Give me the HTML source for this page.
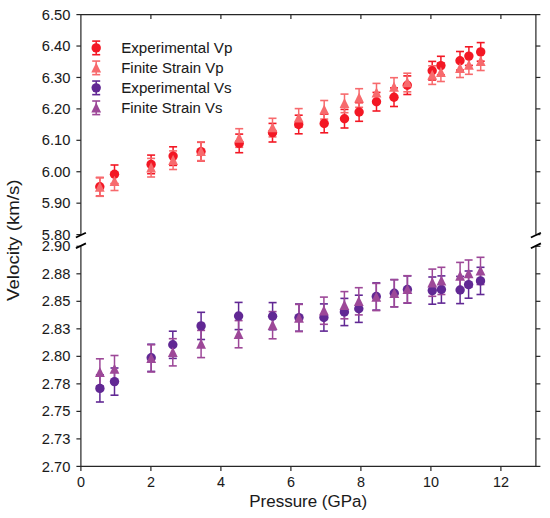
<!DOCTYPE html>
<html><head><meta charset="utf-8"><style>
html,body{margin:0;padding:0;background:#fff;}
svg{display:block;}
text{font-family:"Liberation Sans",sans-serif;fill:#1a1a1a;stroke:#1a1a1a;stroke-width:0.05px;}
</style></head><body>
<svg width="550" height="518" viewBox="0 0 550 518">
<rect width="550" height="518" fill="#fff"/>
<path d="M80.9 234.6V14.6H535.9V234.6" fill="none" stroke="#262626" stroke-width="1.2"/>
<path d="M80.9 246.3V466.4H535.9V246.3" fill="none" stroke="#262626" stroke-width="1.2"/>
<line x1="76.4" y1="14.6" x2="80.9" y2="14.6" stroke="#262626" stroke-width="1.2"/>
<line x1="535.9" y1="14.6" x2="540.4" y2="14.6" stroke="#262626" stroke-width="1.2"/>
<line x1="76.4" y1="46.03" x2="80.9" y2="46.03" stroke="#262626" stroke-width="1.2"/>
<line x1="535.9" y1="46.03" x2="540.4" y2="46.03" stroke="#262626" stroke-width="1.2"/>
<line x1="76.4" y1="77.46" x2="80.9" y2="77.46" stroke="#262626" stroke-width="1.2"/>
<line x1="535.9" y1="77.46" x2="540.4" y2="77.46" stroke="#262626" stroke-width="1.2"/>
<line x1="76.4" y1="108.89" x2="80.9" y2="108.89" stroke="#262626" stroke-width="1.2"/>
<line x1="535.9" y1="108.89" x2="540.4" y2="108.89" stroke="#262626" stroke-width="1.2"/>
<line x1="76.4" y1="140.31" x2="80.9" y2="140.31" stroke="#262626" stroke-width="1.2"/>
<line x1="535.9" y1="140.31" x2="540.4" y2="140.31" stroke="#262626" stroke-width="1.2"/>
<line x1="76.4" y1="171.74" x2="80.9" y2="171.74" stroke="#262626" stroke-width="1.2"/>
<line x1="535.9" y1="171.74" x2="540.4" y2="171.74" stroke="#262626" stroke-width="1.2"/>
<line x1="76.4" y1="203.17" x2="80.9" y2="203.17" stroke="#262626" stroke-width="1.2"/>
<line x1="535.9" y1="203.17" x2="540.4" y2="203.17" stroke="#262626" stroke-width="1.2"/>
<line x1="76.4" y1="234.6" x2="80.9" y2="234.6" stroke="#262626" stroke-width="1.2"/>
<line x1="535.9" y1="234.6" x2="540.4" y2="234.6" stroke="#262626" stroke-width="1.2"/>
<line x1="76.4" y1="246.3" x2="80.9" y2="246.3" stroke="#262626" stroke-width="1.2"/>
<line x1="535.9" y1="246.3" x2="540.4" y2="246.3" stroke="#262626" stroke-width="1.2"/>
<line x1="76.4" y1="273.81" x2="80.9" y2="273.81" stroke="#262626" stroke-width="1.2"/>
<line x1="535.9" y1="273.81" x2="540.4" y2="273.81" stroke="#262626" stroke-width="1.2"/>
<line x1="76.4" y1="301.32" x2="80.9" y2="301.32" stroke="#262626" stroke-width="1.2"/>
<line x1="535.9" y1="301.32" x2="540.4" y2="301.32" stroke="#262626" stroke-width="1.2"/>
<line x1="76.4" y1="328.84" x2="80.9" y2="328.84" stroke="#262626" stroke-width="1.2"/>
<line x1="535.9" y1="328.84" x2="540.4" y2="328.84" stroke="#262626" stroke-width="1.2"/>
<line x1="76.4" y1="356.35" x2="80.9" y2="356.35" stroke="#262626" stroke-width="1.2"/>
<line x1="535.9" y1="356.35" x2="540.4" y2="356.35" stroke="#262626" stroke-width="1.2"/>
<line x1="76.4" y1="383.86" x2="80.9" y2="383.86" stroke="#262626" stroke-width="1.2"/>
<line x1="535.9" y1="383.86" x2="540.4" y2="383.86" stroke="#262626" stroke-width="1.2"/>
<line x1="76.4" y1="411.38" x2="80.9" y2="411.38" stroke="#262626" stroke-width="1.2"/>
<line x1="535.9" y1="411.38" x2="540.4" y2="411.38" stroke="#262626" stroke-width="1.2"/>
<line x1="76.4" y1="438.89" x2="80.9" y2="438.89" stroke="#262626" stroke-width="1.2"/>
<line x1="535.9" y1="438.89" x2="540.4" y2="438.89" stroke="#262626" stroke-width="1.2"/>
<line x1="76.4" y1="466.4" x2="80.9" y2="466.4" stroke="#262626" stroke-width="1.2"/>
<line x1="535.9" y1="466.4" x2="540.4" y2="466.4" stroke="#262626" stroke-width="1.2"/>
<line x1="80.9" y1="466.4" x2="80.9" y2="470.9" stroke="#262626" stroke-width="1.2"/>
<line x1="150.9" y1="466.4" x2="150.9" y2="470.9" stroke="#262626" stroke-width="1.2"/>
<line x1="150.9" y1="14.6" x2="150.9" y2="19.1" stroke="#262626" stroke-width="1.2"/>
<line x1="220.9" y1="466.4" x2="220.9" y2="470.9" stroke="#262626" stroke-width="1.2"/>
<line x1="220.9" y1="14.6" x2="220.9" y2="19.1" stroke="#262626" stroke-width="1.2"/>
<line x1="290.9" y1="466.4" x2="290.9" y2="470.9" stroke="#262626" stroke-width="1.2"/>
<line x1="290.9" y1="14.6" x2="290.9" y2="19.1" stroke="#262626" stroke-width="1.2"/>
<line x1="360.9" y1="466.4" x2="360.9" y2="470.9" stroke="#262626" stroke-width="1.2"/>
<line x1="360.9" y1="14.6" x2="360.9" y2="19.1" stroke="#262626" stroke-width="1.2"/>
<line x1="430.9" y1="466.4" x2="430.9" y2="470.9" stroke="#262626" stroke-width="1.2"/>
<line x1="430.9" y1="14.6" x2="430.9" y2="19.1" stroke="#262626" stroke-width="1.2"/>
<line x1="500.9" y1="466.4" x2="500.9" y2="470.9" stroke="#262626" stroke-width="1.2"/>
<line x1="500.9" y1="14.6" x2="500.9" y2="19.1" stroke="#262626" stroke-width="1.2"/>
<line x1="75.9" y1="237.5" x2="85.9" y2="232.7" stroke="#000" stroke-width="1.8"/>
<line x1="530.9" y1="237.5" x2="540.9" y2="232.7" stroke="#000" stroke-width="1.8"/>
<line x1="75.9" y1="248.2" x2="85.9" y2="243.4" stroke="#000" stroke-width="1.8"/>
<line x1="530.9" y1="248.2" x2="540.9" y2="243.4" stroke="#000" stroke-width="1.8"/>
<line x1="99.8" y1="177.5" x2="99.8" y2="196.1" stroke="#f31724" stroke-width="1.5"/><line x1="95.8" y1="177.5" x2="103.8" y2="177.5" stroke="#f31724" stroke-width="1.6"/><line x1="95.8" y1="196.1" x2="103.8" y2="196.1" stroke="#f31724" stroke-width="1.6"/>
<line x1="114.5" y1="165" x2="114.5" y2="183.6" stroke="#f31724" stroke-width="1.5"/><line x1="110.5" y1="165" x2="118.5" y2="165" stroke="#f31724" stroke-width="1.6"/><line x1="110.5" y1="183.6" x2="118.5" y2="183.6" stroke="#f31724" stroke-width="1.6"/>
<line x1="151.1" y1="155.1" x2="151.1" y2="173.7" stroke="#f31724" stroke-width="1.5"/><line x1="147.1" y1="155.1" x2="155.1" y2="155.1" stroke="#f31724" stroke-width="1.6"/><line x1="147.1" y1="173.7" x2="155.1" y2="173.7" stroke="#f31724" stroke-width="1.6"/>
<line x1="173.1" y1="146.8" x2="173.1" y2="165.4" stroke="#f31724" stroke-width="1.5"/><line x1="169.1" y1="146.8" x2="177.1" y2="146.8" stroke="#f31724" stroke-width="1.6"/><line x1="169.1" y1="165.4" x2="177.1" y2="165.4" stroke="#f31724" stroke-width="1.6"/>
<line x1="201" y1="142.3" x2="201" y2="160.9" stroke="#f31724" stroke-width="1.5"/><line x1="197" y1="142.3" x2="205" y2="142.3" stroke="#f31724" stroke-width="1.6"/><line x1="197" y1="160.9" x2="205" y2="160.9" stroke="#f31724" stroke-width="1.6"/>
<line x1="239.2" y1="134.1" x2="239.2" y2="152.7" stroke="#f31724" stroke-width="1.5"/><line x1="235.2" y1="134.1" x2="243.2" y2="134.1" stroke="#f31724" stroke-width="1.6"/><line x1="235.2" y1="152.7" x2="243.2" y2="152.7" stroke="#f31724" stroke-width="1.6"/>
<line x1="272.5" y1="123.4" x2="272.5" y2="142" stroke="#f31724" stroke-width="1.5"/><line x1="268.5" y1="123.4" x2="276.5" y2="123.4" stroke="#f31724" stroke-width="1.6"/><line x1="268.5" y1="142" x2="276.5" y2="142" stroke="#f31724" stroke-width="1.6"/>
<line x1="298.7" y1="115.2" x2="298.7" y2="133.8" stroke="#f31724" stroke-width="1.5"/><line x1="294.7" y1="115.2" x2="302.7" y2="115.2" stroke="#f31724" stroke-width="1.6"/><line x1="294.7" y1="133.8" x2="302.7" y2="133.8" stroke="#f31724" stroke-width="1.6"/>
<line x1="324.2" y1="114.2" x2="324.2" y2="132.8" stroke="#f31724" stroke-width="1.5"/><line x1="320.2" y1="114.2" x2="328.2" y2="114.2" stroke="#f31724" stroke-width="1.6"/><line x1="320.2" y1="132.8" x2="328.2" y2="132.8" stroke="#f31724" stroke-width="1.6"/>
<line x1="344.5" y1="109.4" x2="344.5" y2="128" stroke="#f31724" stroke-width="1.5"/><line x1="340.5" y1="109.4" x2="348.5" y2="109.4" stroke="#f31724" stroke-width="1.6"/><line x1="340.5" y1="128" x2="348.5" y2="128" stroke="#f31724" stroke-width="1.6"/>
<line x1="359.1" y1="102.7" x2="359.1" y2="121.3" stroke="#f31724" stroke-width="1.5"/><line x1="355.1" y1="102.7" x2="363.1" y2="102.7" stroke="#f31724" stroke-width="1.6"/><line x1="355.1" y1="121.3" x2="363.1" y2="121.3" stroke="#f31724" stroke-width="1.6"/>
<line x1="376.5" y1="92.4" x2="376.5" y2="111" stroke="#f31724" stroke-width="1.5"/><line x1="372.5" y1="92.4" x2="380.5" y2="92.4" stroke="#f31724" stroke-width="1.6"/><line x1="372.5" y1="111" x2="380.5" y2="111" stroke="#f31724" stroke-width="1.6"/>
<line x1="394" y1="87.9" x2="394" y2="106.5" stroke="#f31724" stroke-width="1.5"/><line x1="390" y1="87.9" x2="398" y2="87.9" stroke="#f31724" stroke-width="1.6"/><line x1="390" y1="106.5" x2="398" y2="106.5" stroke="#f31724" stroke-width="1.6"/>
<line x1="407.3" y1="75.9" x2="407.3" y2="94.5" stroke="#f31724" stroke-width="1.5"/><line x1="403.3" y1="75.9" x2="411.3" y2="75.9" stroke="#f31724" stroke-width="1.6"/><line x1="403.3" y1="94.5" x2="411.3" y2="94.5" stroke="#f31724" stroke-width="1.6"/>
<line x1="432.2" y1="61.4" x2="432.2" y2="80" stroke="#f31724" stroke-width="1.5"/><line x1="428.2" y1="61.4" x2="436.2" y2="61.4" stroke="#f31724" stroke-width="1.6"/><line x1="428.2" y1="80" x2="436.2" y2="80" stroke="#f31724" stroke-width="1.6"/>
<line x1="440.9" y1="56.3" x2="440.9" y2="74.9" stroke="#f31724" stroke-width="1.5"/><line x1="436.9" y1="56.3" x2="444.9" y2="56.3" stroke="#f31724" stroke-width="1.6"/><line x1="436.9" y1="74.9" x2="444.9" y2="74.9" stroke="#f31724" stroke-width="1.6"/>
<line x1="460" y1="51.5" x2="460" y2="70.1" stroke="#f31724" stroke-width="1.5"/><line x1="456" y1="51.5" x2="464" y2="51.5" stroke="#f31724" stroke-width="1.6"/><line x1="456" y1="70.1" x2="464" y2="70.1" stroke="#f31724" stroke-width="1.6"/>
<line x1="468.9" y1="46.8" x2="468.9" y2="65.4" stroke="#f31724" stroke-width="1.5"/><line x1="464.9" y1="46.8" x2="472.9" y2="46.8" stroke="#f31724" stroke-width="1.6"/><line x1="464.9" y1="65.4" x2="472.9" y2="65.4" stroke="#f31724" stroke-width="1.6"/>
<line x1="480.7" y1="42.6" x2="480.7" y2="61.2" stroke="#f31724" stroke-width="1.5"/><line x1="476.7" y1="42.6" x2="484.7" y2="42.6" stroke="#f31724" stroke-width="1.6"/><line x1="476.7" y1="61.2" x2="484.7" y2="61.2" stroke="#f31724" stroke-width="1.6"/>
<line x1="99.8" y1="177.7" x2="99.8" y2="196.3" stroke="#f76a6d" stroke-width="1.5"/><line x1="95.8" y1="177.7" x2="103.8" y2="177.7" stroke="#f76a6d" stroke-width="1.6"/><line x1="95.8" y1="196.3" x2="103.8" y2="196.3" stroke="#f76a6d" stroke-width="1.6"/>
<line x1="114.5" y1="171.9" x2="114.5" y2="190.5" stroke="#f76a6d" stroke-width="1.5"/><line x1="110.5" y1="171.9" x2="118.5" y2="171.9" stroke="#f76a6d" stroke-width="1.6"/><line x1="110.5" y1="190.5" x2="118.5" y2="190.5" stroke="#f76a6d" stroke-width="1.6"/>
<line x1="151.1" y1="158.4" x2="151.1" y2="177" stroke="#f76a6d" stroke-width="1.5"/><line x1="147.1" y1="158.4" x2="155.1" y2="158.4" stroke="#f76a6d" stroke-width="1.6"/><line x1="147.1" y1="177" x2="155.1" y2="177" stroke="#f76a6d" stroke-width="1.6"/>
<line x1="173.1" y1="150.9" x2="173.1" y2="169.5" stroke="#f76a6d" stroke-width="1.5"/><line x1="169.1" y1="150.9" x2="177.1" y2="150.9" stroke="#f76a6d" stroke-width="1.6"/><line x1="169.1" y1="169.5" x2="177.1" y2="169.5" stroke="#f76a6d" stroke-width="1.6"/>
<line x1="201" y1="142" x2="201" y2="160.6" stroke="#f76a6d" stroke-width="1.5"/><line x1="197" y1="142" x2="205" y2="142" stroke="#f76a6d" stroke-width="1.6"/><line x1="197" y1="160.6" x2="205" y2="160.6" stroke="#f76a6d" stroke-width="1.6"/>
<line x1="239.2" y1="128.7" x2="239.2" y2="147.3" stroke="#f76a6d" stroke-width="1.5"/><line x1="235.2" y1="128.7" x2="243.2" y2="128.7" stroke="#f76a6d" stroke-width="1.6"/><line x1="235.2" y1="147.3" x2="243.2" y2="147.3" stroke="#f76a6d" stroke-width="1.6"/>
<line x1="272.5" y1="118.3" x2="272.5" y2="136.9" stroke="#f76a6d" stroke-width="1.5"/><line x1="268.5" y1="118.3" x2="276.5" y2="118.3" stroke="#f76a6d" stroke-width="1.6"/><line x1="268.5" y1="136.9" x2="276.5" y2="136.9" stroke="#f76a6d" stroke-width="1.6"/>
<line x1="298.7" y1="108.6" x2="298.7" y2="127.2" stroke="#f76a6d" stroke-width="1.5"/><line x1="294.7" y1="108.6" x2="302.7" y2="108.6" stroke="#f76a6d" stroke-width="1.6"/><line x1="294.7" y1="127.2" x2="302.7" y2="127.2" stroke="#f76a6d" stroke-width="1.6"/>
<line x1="324.2" y1="100.5" x2="324.2" y2="119.1" stroke="#f76a6d" stroke-width="1.5"/><line x1="320.2" y1="100.5" x2="328.2" y2="100.5" stroke="#f76a6d" stroke-width="1.6"/><line x1="320.2" y1="119.1" x2="328.2" y2="119.1" stroke="#f76a6d" stroke-width="1.6"/>
<line x1="344.5" y1="94.1" x2="344.5" y2="112.7" stroke="#f76a6d" stroke-width="1.5"/><line x1="340.5" y1="94.1" x2="348.5" y2="94.1" stroke="#f76a6d" stroke-width="1.6"/><line x1="340.5" y1="112.7" x2="348.5" y2="112.7" stroke="#f76a6d" stroke-width="1.6"/>
<line x1="359.1" y1="88.7" x2="359.1" y2="107.3" stroke="#f76a6d" stroke-width="1.5"/><line x1="355.1" y1="88.7" x2="363.1" y2="88.7" stroke="#f76a6d" stroke-width="1.6"/><line x1="355.1" y1="107.3" x2="363.1" y2="107.3" stroke="#f76a6d" stroke-width="1.6"/>
<line x1="376.5" y1="83.4" x2="376.5" y2="102" stroke="#f76a6d" stroke-width="1.5"/><line x1="372.5" y1="83.4" x2="380.5" y2="83.4" stroke="#f76a6d" stroke-width="1.6"/><line x1="372.5" y1="102" x2="380.5" y2="102" stroke="#f76a6d" stroke-width="1.6"/>
<line x1="394" y1="77.7" x2="394" y2="96.3" stroke="#f76a6d" stroke-width="1.5"/><line x1="390" y1="77.7" x2="398" y2="77.7" stroke="#f76a6d" stroke-width="1.6"/><line x1="390" y1="96.3" x2="398" y2="96.3" stroke="#f76a6d" stroke-width="1.6"/>
<line x1="407.3" y1="73.2" x2="407.3" y2="91.8" stroke="#f76a6d" stroke-width="1.5"/><line x1="403.3" y1="73.2" x2="411.3" y2="73.2" stroke="#f76a6d" stroke-width="1.6"/><line x1="403.3" y1="91.8" x2="411.3" y2="91.8" stroke="#f76a6d" stroke-width="1.6"/>
<line x1="432.2" y1="65.8" x2="432.2" y2="84.4" stroke="#f76a6d" stroke-width="1.5"/><line x1="428.2" y1="65.8" x2="436.2" y2="65.8" stroke="#f76a6d" stroke-width="1.6"/><line x1="428.2" y1="84.4" x2="436.2" y2="84.4" stroke="#f76a6d" stroke-width="1.6"/>
<line x1="440.9" y1="62.9" x2="440.9" y2="81.5" stroke="#f76a6d" stroke-width="1.5"/><line x1="436.9" y1="62.9" x2="444.9" y2="62.9" stroke="#f76a6d" stroke-width="1.6"/><line x1="436.9" y1="81.5" x2="444.9" y2="81.5" stroke="#f76a6d" stroke-width="1.6"/>
<line x1="460" y1="58.9" x2="460" y2="77.5" stroke="#f76a6d" stroke-width="1.5"/><line x1="456" y1="58.9" x2="464" y2="58.9" stroke="#f76a6d" stroke-width="1.6"/><line x1="456" y1="77.5" x2="464" y2="77.5" stroke="#f76a6d" stroke-width="1.6"/>
<line x1="468.9" y1="55.7" x2="468.9" y2="74.3" stroke="#f76a6d" stroke-width="1.5"/><line x1="464.9" y1="55.7" x2="472.9" y2="55.7" stroke="#f76a6d" stroke-width="1.6"/><line x1="464.9" y1="74.3" x2="472.9" y2="74.3" stroke="#f76a6d" stroke-width="1.6"/>
<line x1="480.7" y1="51.9" x2="480.7" y2="70.5" stroke="#f76a6d" stroke-width="1.5"/><line x1="476.7" y1="51.9" x2="484.7" y2="51.9" stroke="#f76a6d" stroke-width="1.6"/><line x1="476.7" y1="70.5" x2="484.7" y2="70.5" stroke="#f76a6d" stroke-width="1.6"/>
<line x1="99.9" y1="374.8" x2="99.9" y2="402" stroke="#612894" stroke-width="1.5"/><line x1="95.9" y1="374.8" x2="103.9" y2="374.8" stroke="#612894" stroke-width="1.6"/><line x1="95.9" y1="402" x2="103.9" y2="402" stroke="#612894" stroke-width="1.6"/>
<line x1="114.5" y1="368" x2="114.5" y2="395.2" stroke="#612894" stroke-width="1.5"/><line x1="110.5" y1="368" x2="118.5" y2="368" stroke="#612894" stroke-width="1.6"/><line x1="110.5" y1="395.2" x2="118.5" y2="395.2" stroke="#612894" stroke-width="1.6"/>
<line x1="151.2" y1="344.2" x2="151.2" y2="371.4" stroke="#612894" stroke-width="1.5"/><line x1="147.2" y1="344.2" x2="155.2" y2="344.2" stroke="#612894" stroke-width="1.6"/><line x1="147.2" y1="371.4" x2="155.2" y2="371.4" stroke="#612894" stroke-width="1.6"/>
<line x1="172.8" y1="331.2" x2="172.8" y2="358.4" stroke="#612894" stroke-width="1.5"/><line x1="168.8" y1="331.2" x2="176.8" y2="331.2" stroke="#612894" stroke-width="1.6"/><line x1="168.8" y1="358.4" x2="176.8" y2="358.4" stroke="#612894" stroke-width="1.6"/>
<line x1="201.1" y1="312.3" x2="201.1" y2="339.5" stroke="#612894" stroke-width="1.5"/><line x1="197.1" y1="312.3" x2="205.1" y2="312.3" stroke="#612894" stroke-width="1.6"/><line x1="197.1" y1="339.5" x2="205.1" y2="339.5" stroke="#612894" stroke-width="1.6"/>
<line x1="238.6" y1="302.4" x2="238.6" y2="329.6" stroke="#612894" stroke-width="1.5"/><line x1="234.6" y1="302.4" x2="242.6" y2="302.4" stroke="#612894" stroke-width="1.6"/><line x1="234.6" y1="329.6" x2="242.6" y2="329.6" stroke="#612894" stroke-width="1.6"/>
<line x1="272.6" y1="302.6" x2="272.6" y2="329.8" stroke="#612894" stroke-width="1.5"/><line x1="268.6" y1="302.6" x2="276.6" y2="302.6" stroke="#612894" stroke-width="1.6"/><line x1="268.6" y1="329.8" x2="276.6" y2="329.8" stroke="#612894" stroke-width="1.6"/>
<line x1="299" y1="304" x2="299" y2="331.2" stroke="#612894" stroke-width="1.5"/><line x1="295" y1="304" x2="303" y2="304" stroke="#612894" stroke-width="1.6"/><line x1="295" y1="331.2" x2="303" y2="331.2" stroke="#612894" stroke-width="1.6"/>
<line x1="323.9" y1="303.9" x2="323.9" y2="331.1" stroke="#612894" stroke-width="1.5"/><line x1="319.9" y1="303.9" x2="327.9" y2="303.9" stroke="#612894" stroke-width="1.6"/><line x1="319.9" y1="331.1" x2="327.9" y2="331.1" stroke="#612894" stroke-width="1.6"/>
<line x1="344.4" y1="298.4" x2="344.4" y2="325.6" stroke="#612894" stroke-width="1.5"/><line x1="340.4" y1="298.4" x2="348.4" y2="298.4" stroke="#612894" stroke-width="1.6"/><line x1="340.4" y1="325.6" x2="348.4" y2="325.6" stroke="#612894" stroke-width="1.6"/>
<line x1="358.8" y1="295.2" x2="358.8" y2="322.4" stroke="#612894" stroke-width="1.5"/><line x1="354.8" y1="295.2" x2="362.8" y2="295.2" stroke="#612894" stroke-width="1.6"/><line x1="354.8" y1="322.4" x2="362.8" y2="322.4" stroke="#612894" stroke-width="1.6"/>
<line x1="376.3" y1="282.9" x2="376.3" y2="310.1" stroke="#612894" stroke-width="1.5"/><line x1="372.3" y1="282.9" x2="380.3" y2="282.9" stroke="#612894" stroke-width="1.6"/><line x1="372.3" y1="310.1" x2="380.3" y2="310.1" stroke="#612894" stroke-width="1.6"/>
<line x1="394.3" y1="279.6" x2="394.3" y2="306.8" stroke="#612894" stroke-width="1.5"/><line x1="390.3" y1="279.6" x2="398.3" y2="279.6" stroke="#612894" stroke-width="1.6"/><line x1="390.3" y1="306.8" x2="398.3" y2="306.8" stroke="#612894" stroke-width="1.6"/>
<line x1="407.4" y1="275.9" x2="407.4" y2="303.1" stroke="#612894" stroke-width="1.5"/><line x1="403.4" y1="275.9" x2="411.4" y2="275.9" stroke="#612894" stroke-width="1.6"/><line x1="403.4" y1="303.1" x2="411.4" y2="303.1" stroke="#612894" stroke-width="1.6"/>
<line x1="432.3" y1="277" x2="432.3" y2="304.2" stroke="#612894" stroke-width="1.5"/><line x1="428.3" y1="277" x2="436.3" y2="277" stroke="#612894" stroke-width="1.6"/><line x1="428.3" y1="304.2" x2="436.3" y2="304.2" stroke="#612894" stroke-width="1.6"/>
<line x1="441.4" y1="275.9" x2="441.4" y2="303.1" stroke="#612894" stroke-width="1.5"/><line x1="437.4" y1="275.9" x2="445.4" y2="275.9" stroke="#612894" stroke-width="1.6"/><line x1="437.4" y1="303.1" x2="445.4" y2="303.1" stroke="#612894" stroke-width="1.6"/>
<line x1="460.1" y1="276.4" x2="460.1" y2="303.6" stroke="#612894" stroke-width="1.5"/><line x1="456.1" y1="276.4" x2="464.1" y2="276.4" stroke="#612894" stroke-width="1.6"/><line x1="456.1" y1="303.6" x2="464.1" y2="303.6" stroke="#612894" stroke-width="1.6"/>
<line x1="468.6" y1="271" x2="468.6" y2="298.2" stroke="#612894" stroke-width="1.5"/><line x1="464.6" y1="271" x2="472.6" y2="271" stroke="#612894" stroke-width="1.6"/><line x1="464.6" y1="298.2" x2="472.6" y2="298.2" stroke="#612894" stroke-width="1.6"/>
<line x1="480.5" y1="267.3" x2="480.5" y2="294.5" stroke="#612894" stroke-width="1.5"/><line x1="476.5" y1="267.3" x2="484.5" y2="267.3" stroke="#612894" stroke-width="1.6"/><line x1="476.5" y1="294.5" x2="484.5" y2="294.5" stroke="#612894" stroke-width="1.6"/>
<line x1="99.9" y1="358.8" x2="99.9" y2="386" stroke="#9d4898" stroke-width="1.5"/><line x1="95.9" y1="358.8" x2="103.9" y2="358.8" stroke="#9d4898" stroke-width="1.6"/><line x1="95.9" y1="386" x2="103.9" y2="386" stroke="#9d4898" stroke-width="1.6"/>
<line x1="114.5" y1="355.5" x2="114.5" y2="382.7" stroke="#9d4898" stroke-width="1.5"/><line x1="110.5" y1="355.5" x2="118.5" y2="355.5" stroke="#9d4898" stroke-width="1.6"/><line x1="110.5" y1="382.7" x2="118.5" y2="382.7" stroke="#9d4898" stroke-width="1.6"/>
<line x1="151.2" y1="344.8" x2="151.2" y2="372" stroke="#9d4898" stroke-width="1.5"/><line x1="147.2" y1="344.8" x2="155.2" y2="344.8" stroke="#9d4898" stroke-width="1.6"/><line x1="147.2" y1="372" x2="155.2" y2="372" stroke="#9d4898" stroke-width="1.6"/>
<line x1="172.8" y1="338.7" x2="172.8" y2="365.9" stroke="#9d4898" stroke-width="1.5"/><line x1="168.8" y1="338.7" x2="176.8" y2="338.7" stroke="#9d4898" stroke-width="1.6"/><line x1="168.8" y1="365.9" x2="176.8" y2="365.9" stroke="#9d4898" stroke-width="1.6"/>
<line x1="201.1" y1="330.4" x2="201.1" y2="357.6" stroke="#9d4898" stroke-width="1.5"/><line x1="197.1" y1="330.4" x2="205.1" y2="330.4" stroke="#9d4898" stroke-width="1.6"/><line x1="197.1" y1="357.6" x2="205.1" y2="357.6" stroke="#9d4898" stroke-width="1.6"/>
<line x1="238.6" y1="320.6" x2="238.6" y2="347.8" stroke="#9d4898" stroke-width="1.5"/><line x1="234.6" y1="320.6" x2="242.6" y2="320.6" stroke="#9d4898" stroke-width="1.6"/><line x1="234.6" y1="347.8" x2="242.6" y2="347.8" stroke="#9d4898" stroke-width="1.6"/>
<line x1="272.6" y1="311.6" x2="272.6" y2="338.8" stroke="#9d4898" stroke-width="1.5"/><line x1="268.6" y1="311.6" x2="276.6" y2="311.6" stroke="#9d4898" stroke-width="1.6"/><line x1="268.6" y1="338.8" x2="276.6" y2="338.8" stroke="#9d4898" stroke-width="1.6"/>
<line x1="299" y1="304.4" x2="299" y2="331.6" stroke="#9d4898" stroke-width="1.5"/><line x1="295" y1="304.4" x2="303" y2="304.4" stroke="#9d4898" stroke-width="1.6"/><line x1="295" y1="331.6" x2="303" y2="331.6" stroke="#9d4898" stroke-width="1.6"/>
<line x1="323.9" y1="297.1" x2="323.9" y2="324.3" stroke="#9d4898" stroke-width="1.5"/><line x1="319.9" y1="297.1" x2="327.9" y2="297.1" stroke="#9d4898" stroke-width="1.6"/><line x1="319.9" y1="324.3" x2="327.9" y2="324.3" stroke="#9d4898" stroke-width="1.6"/>
<line x1="344.4" y1="291.6" x2="344.4" y2="318.8" stroke="#9d4898" stroke-width="1.5"/><line x1="340.4" y1="291.6" x2="348.4" y2="291.6" stroke="#9d4898" stroke-width="1.6"/><line x1="340.4" y1="318.8" x2="348.4" y2="318.8" stroke="#9d4898" stroke-width="1.6"/>
<line x1="358.8" y1="287.7" x2="358.8" y2="314.9" stroke="#9d4898" stroke-width="1.5"/><line x1="354.8" y1="287.7" x2="362.8" y2="287.7" stroke="#9d4898" stroke-width="1.6"/><line x1="354.8" y1="314.9" x2="362.8" y2="314.9" stroke="#9d4898" stroke-width="1.6"/>
<line x1="376.3" y1="283.4" x2="376.3" y2="310.6" stroke="#9d4898" stroke-width="1.5"/><line x1="372.3" y1="283.4" x2="380.3" y2="283.4" stroke="#9d4898" stroke-width="1.6"/><line x1="372.3" y1="310.6" x2="380.3" y2="310.6" stroke="#9d4898" stroke-width="1.6"/>
<line x1="394.3" y1="279.7" x2="394.3" y2="306.9" stroke="#9d4898" stroke-width="1.5"/><line x1="390.3" y1="279.7" x2="398.3" y2="279.7" stroke="#9d4898" stroke-width="1.6"/><line x1="390.3" y1="306.9" x2="398.3" y2="306.9" stroke="#9d4898" stroke-width="1.6"/>
<line x1="407.4" y1="275.7" x2="407.4" y2="302.9" stroke="#9d4898" stroke-width="1.5"/><line x1="403.4" y1="275.7" x2="411.4" y2="275.7" stroke="#9d4898" stroke-width="1.6"/><line x1="403.4" y1="302.9" x2="411.4" y2="302.9" stroke="#9d4898" stroke-width="1.6"/>
<line x1="432.3" y1="269.1" x2="432.3" y2="296.3" stroke="#9d4898" stroke-width="1.5"/><line x1="428.3" y1="269.1" x2="436.3" y2="269.1" stroke="#9d4898" stroke-width="1.6"/><line x1="428.3" y1="296.3" x2="436.3" y2="296.3" stroke="#9d4898" stroke-width="1.6"/>
<line x1="441.4" y1="267.3" x2="441.4" y2="294.5" stroke="#9d4898" stroke-width="1.5"/><line x1="437.4" y1="267.3" x2="445.4" y2="267.3" stroke="#9d4898" stroke-width="1.6"/><line x1="437.4" y1="294.5" x2="445.4" y2="294.5" stroke="#9d4898" stroke-width="1.6"/>
<line x1="460.1" y1="262.4" x2="460.1" y2="289.6" stroke="#9d4898" stroke-width="1.5"/><line x1="456.1" y1="262.4" x2="464.1" y2="262.4" stroke="#9d4898" stroke-width="1.6"/><line x1="456.1" y1="289.6" x2="464.1" y2="289.6" stroke="#9d4898" stroke-width="1.6"/>
<line x1="468.6" y1="260" x2="468.6" y2="287.2" stroke="#9d4898" stroke-width="1.5"/><line x1="464.6" y1="260" x2="472.6" y2="260" stroke="#9d4898" stroke-width="1.6"/><line x1="464.6" y1="287.2" x2="472.6" y2="287.2" stroke="#9d4898" stroke-width="1.6"/>
<line x1="480.5" y1="257.3" x2="480.5" y2="284.5" stroke="#9d4898" stroke-width="1.5"/><line x1="476.5" y1="257.3" x2="484.5" y2="257.3" stroke="#9d4898" stroke-width="1.6"/><line x1="476.5" y1="284.5" x2="484.5" y2="284.5" stroke="#9d4898" stroke-width="1.6"/>
<circle cx="99.8" cy="186.8" r="4.7" fill="#f31724"/>
<circle cx="114.5" cy="174.3" r="4.7" fill="#f31724"/>
<circle cx="151.1" cy="164.4" r="4.7" fill="#f31724"/>
<circle cx="173.1" cy="156.1" r="4.7" fill="#f31724"/>
<circle cx="201" cy="151.6" r="4.7" fill="#f31724"/>
<circle cx="239.2" cy="143.4" r="4.7" fill="#f31724"/>
<circle cx="272.5" cy="132.7" r="4.7" fill="#f31724"/>
<circle cx="298.7" cy="124.5" r="4.7" fill="#f31724"/>
<circle cx="324.2" cy="123.5" r="4.7" fill="#f31724"/>
<circle cx="344.5" cy="118.7" r="4.7" fill="#f31724"/>
<circle cx="359.1" cy="112" r="4.7" fill="#f31724"/>
<circle cx="376.5" cy="101.7" r="4.7" fill="#f31724"/>
<circle cx="394" cy="97.2" r="4.7" fill="#f31724"/>
<circle cx="407.3" cy="85.2" r="4.7" fill="#f31724"/>
<circle cx="432.2" cy="70.7" r="4.7" fill="#f31724"/>
<circle cx="440.9" cy="65.6" r="4.7" fill="#f31724"/>
<circle cx="460" cy="60.8" r="4.7" fill="#f31724"/>
<circle cx="468.9" cy="56.1" r="4.7" fill="#f31724"/>
<circle cx="480.7" cy="51.9" r="4.7" fill="#f31724"/>
<path d="M99.8 181.6L104.7 191.7L94.9 191.7Z" fill="#f76a6d"/>
<path d="M114.5 175.8L119.4 185.9L109.6 185.9Z" fill="#f76a6d"/>
<path d="M151.1 162.3L156 172.4L146.2 172.4Z" fill="#f76a6d"/>
<path d="M173.1 154.8L178 164.9L168.2 164.9Z" fill="#f76a6d"/>
<path d="M201 145.9L205.9 156L196.1 156Z" fill="#f76a6d"/>
<path d="M239.2 132.6L244.1 142.7L234.3 142.7Z" fill="#f76a6d"/>
<path d="M272.5 122.2L277.4 132.3L267.6 132.3Z" fill="#f76a6d"/>
<path d="M298.7 112.5L303.6 122.6L293.8 122.6Z" fill="#f76a6d"/>
<path d="M324.2 104.4L329.1 114.5L319.3 114.5Z" fill="#f76a6d"/>
<path d="M344.5 98L349.4 108.1L339.6 108.1Z" fill="#f76a6d"/>
<path d="M359.1 92.6L364 102.7L354.2 102.7Z" fill="#f76a6d"/>
<path d="M376.5 87.3L381.4 97.4L371.6 97.4Z" fill="#f76a6d"/>
<path d="M394 81.6L398.9 91.7L389.1 91.7Z" fill="#f76a6d"/>
<path d="M407.3 77.1L412.2 87.2L402.4 87.2Z" fill="#f76a6d"/>
<path d="M432.2 69.7L437.1 79.8L427.3 79.8Z" fill="#f76a6d"/>
<path d="M440.9 66.8L445.8 76.9L436 76.9Z" fill="#f76a6d"/>
<path d="M460 62.8L464.9 72.9L455.1 72.9Z" fill="#f76a6d"/>
<path d="M468.9 59.6L473.8 69.7L464 69.7Z" fill="#f76a6d"/>
<path d="M480.7 55.8L485.6 65.9L475.8 65.9Z" fill="#f76a6d"/>
<circle cx="99.9" cy="388.4" r="4.7" fill="#612894"/>
<circle cx="114.5" cy="381.6" r="4.7" fill="#612894"/>
<circle cx="151.2" cy="357.8" r="4.7" fill="#612894"/>
<circle cx="172.8" cy="344.8" r="4.7" fill="#612894"/>
<circle cx="201.1" cy="325.9" r="4.7" fill="#612894"/>
<circle cx="238.6" cy="316" r="4.7" fill="#612894"/>
<circle cx="272.6" cy="316.2" r="4.7" fill="#612894"/>
<circle cx="299" cy="317.6" r="4.7" fill="#612894"/>
<circle cx="323.9" cy="317.5" r="4.7" fill="#612894"/>
<circle cx="344.4" cy="312" r="4.7" fill="#612894"/>
<circle cx="358.8" cy="308.8" r="4.7" fill="#612894"/>
<circle cx="376.3" cy="296.5" r="4.7" fill="#612894"/>
<circle cx="394.3" cy="293.2" r="4.7" fill="#612894"/>
<circle cx="407.4" cy="289.5" r="4.7" fill="#612894"/>
<circle cx="432.3" cy="290.6" r="4.7" fill="#612894"/>
<circle cx="441.4" cy="289.5" r="4.7" fill="#612894"/>
<circle cx="460.1" cy="290" r="4.7" fill="#612894"/>
<circle cx="468.6" cy="284.6" r="4.7" fill="#612894"/>
<circle cx="480.5" cy="280.9" r="4.7" fill="#612894"/>
<path d="M99.9 367L104.8 377.1L95 377.1Z" fill="#9d4898"/>
<path d="M114.5 363.7L119.4 373.8L109.6 373.8Z" fill="#9d4898"/>
<path d="M151.2 353L156.1 363.1L146.3 363.1Z" fill="#9d4898"/>
<path d="M172.8 346.9L177.7 357L167.9 357Z" fill="#9d4898"/>
<path d="M201.1 338.6L206 348.7L196.2 348.7Z" fill="#9d4898"/>
<path d="M238.6 328.8L243.5 338.9L233.7 338.9Z" fill="#9d4898"/>
<path d="M272.6 319.8L277.5 329.9L267.7 329.9Z" fill="#9d4898"/>
<path d="M299 312.6L303.9 322.7L294.1 322.7Z" fill="#9d4898"/>
<path d="M323.9 305.3L328.8 315.4L319 315.4Z" fill="#9d4898"/>
<path d="M344.4 299.8L349.3 309.9L339.5 309.9Z" fill="#9d4898"/>
<path d="M358.8 295.9L363.7 306L353.9 306Z" fill="#9d4898"/>
<path d="M376.3 291.6L381.2 301.7L371.4 301.7Z" fill="#9d4898"/>
<path d="M394.3 287.9L399.2 298L389.4 298Z" fill="#9d4898"/>
<path d="M407.4 283.9L412.3 294L402.5 294Z" fill="#9d4898"/>
<path d="M432.3 277.3L437.2 287.4L427.4 287.4Z" fill="#9d4898"/>
<path d="M441.4 275.5L446.3 285.6L436.5 285.6Z" fill="#9d4898"/>
<path d="M460.1 270.6L465 280.7L455.2 280.7Z" fill="#9d4898"/>
<path d="M468.6 268.2L473.5 278.3L463.7 278.3Z" fill="#9d4898"/>
<path d="M480.5 265.5L485.4 275.6L475.6 275.6Z" fill="#9d4898"/>
<text x="70.4" y="19.7" text-anchor="end" font-size="14" textLength="28.6" lengthAdjust="spacingAndGlyphs">6.50</text>
<text x="70.4" y="51.13" text-anchor="end" font-size="14" textLength="28.6" lengthAdjust="spacingAndGlyphs">6.40</text>
<text x="70.4" y="82.56" text-anchor="end" font-size="14" textLength="28.6" lengthAdjust="spacingAndGlyphs">6.30</text>
<text x="70.4" y="113.99" text-anchor="end" font-size="14" textLength="28.6" lengthAdjust="spacingAndGlyphs">6.20</text>
<text x="70.4" y="145.41" text-anchor="end" font-size="14" textLength="28.6" lengthAdjust="spacingAndGlyphs">6.10</text>
<text x="70.4" y="176.84" text-anchor="end" font-size="14" textLength="28.6" lengthAdjust="spacingAndGlyphs">6.00</text>
<text x="70.4" y="208.27" text-anchor="end" font-size="14" textLength="28.6" lengthAdjust="spacingAndGlyphs">5.90</text>
<text x="70.4" y="239.7" text-anchor="end" font-size="14" textLength="28.6" lengthAdjust="spacingAndGlyphs">5.80</text>
<text x="70.4" y="251.4" text-anchor="end" font-size="14" textLength="28.6" lengthAdjust="spacingAndGlyphs">2.90</text>
<text x="70.4" y="278.91" text-anchor="end" font-size="14" textLength="28.6" lengthAdjust="spacingAndGlyphs">2.88</text>
<text x="70.4" y="306.43" text-anchor="end" font-size="14" textLength="28.6" lengthAdjust="spacingAndGlyphs">2.85</text>
<text x="70.4" y="333.94" text-anchor="end" font-size="14" textLength="28.6" lengthAdjust="spacingAndGlyphs">2.83</text>
<text x="70.4" y="361.45" text-anchor="end" font-size="14" textLength="28.6" lengthAdjust="spacingAndGlyphs">2.80</text>
<text x="70.4" y="388.96" text-anchor="end" font-size="14" textLength="28.6" lengthAdjust="spacingAndGlyphs">2.78</text>
<text x="70.4" y="416.48" text-anchor="end" font-size="14" textLength="28.6" lengthAdjust="spacingAndGlyphs">2.75</text>
<text x="70.4" y="443.99" text-anchor="end" font-size="14" textLength="28.6" lengthAdjust="spacingAndGlyphs">2.73</text>
<text x="70.4" y="471.5" text-anchor="end" font-size="14" textLength="28.6" lengthAdjust="spacingAndGlyphs">2.70</text>
<text x="80.9" y="486.5" text-anchor="middle" font-size="14" textLength="8.0" lengthAdjust="spacingAndGlyphs">0</text>
<text x="150.9" y="486.5" text-anchor="middle" font-size="14" textLength="8.0" lengthAdjust="spacingAndGlyphs">2</text>
<text x="220.9" y="486.5" text-anchor="middle" font-size="14" textLength="8.0" lengthAdjust="spacingAndGlyphs">4</text>
<text x="290.9" y="486.5" text-anchor="middle" font-size="14" textLength="8.0" lengthAdjust="spacingAndGlyphs">6</text>
<text x="360.9" y="486.5" text-anchor="middle" font-size="14" textLength="8.0" lengthAdjust="spacingAndGlyphs">8</text>
<text x="430.9" y="486.5" text-anchor="middle" font-size="14" textLength="16.0" lengthAdjust="spacingAndGlyphs">10</text>
<text x="500.9" y="486.5" text-anchor="middle" font-size="14" textLength="16.0" lengthAdjust="spacingAndGlyphs">12</text>
<text x="249.3" y="506.8" font-size="15.9" textLength="117.8" lengthAdjust="spacingAndGlyphs">Pressure (GPa)</text>
<text transform="translate(18.6 301) rotate(-90)" font-size="15.9" textLength="121.6" lengthAdjust="spacingAndGlyphs">Velocity (km/s)</text>
<text x="121.2" y="52.8" font-size="13.9" textLength="111.2" lengthAdjust="spacingAndGlyphs">Experimental Vp</text>
<line x1="96.2" y1="41.1" x2="96.2" y2="54.7" stroke="#f31724" stroke-width="1.5"/><line x1="92.2" y1="41.1" x2="100.2" y2="41.1" stroke="#f31724" stroke-width="1.6"/><line x1="92.2" y1="54.7" x2="100.2" y2="54.7" stroke="#f31724" stroke-width="1.6"/>
<circle cx="96.2" cy="47.9" r="4.7" fill="#f31724"/>
<text x="121.2" y="72.77" font-size="13.9" textLength="102.4" lengthAdjust="spacingAndGlyphs">Finite Strain Vp</text>
<line x1="96.2" y1="61.07" x2="96.2" y2="74.67" stroke="#f76a6d" stroke-width="1.5"/><line x1="92.2" y1="61.07" x2="100.2" y2="61.07" stroke="#f76a6d" stroke-width="1.6"/><line x1="92.2" y1="74.67" x2="100.2" y2="74.67" stroke="#f76a6d" stroke-width="1.6"/>
<path d="M96.2 62.47L101.1 72.57L91.3 72.57Z" fill="#f76a6d"/>
<text x="121.2" y="92.74" font-size="13.9" textLength="110.5" lengthAdjust="spacingAndGlyphs">Experimental Vs</text>
<line x1="96.2" y1="81.04" x2="96.2" y2="94.64" stroke="#612894" stroke-width="1.5"/><line x1="92.2" y1="81.04" x2="100.2" y2="81.04" stroke="#612894" stroke-width="1.6"/><line x1="92.2" y1="94.64" x2="100.2" y2="94.64" stroke="#612894" stroke-width="1.6"/>
<circle cx="96.2" cy="87.84" r="4.7" fill="#612894"/>
<text x="121.2" y="112.71" font-size="13.9" textLength="101.2" lengthAdjust="spacingAndGlyphs">Finite Strain Vs</text>
<line x1="96.2" y1="101.01" x2="96.2" y2="114.61" stroke="#9d4898" stroke-width="1.5"/><line x1="92.2" y1="101.01" x2="100.2" y2="101.01" stroke="#9d4898" stroke-width="1.6"/><line x1="92.2" y1="114.61" x2="100.2" y2="114.61" stroke="#9d4898" stroke-width="1.6"/>
<path d="M96.2 102.41L101.1 112.51L91.3 112.51Z" fill="#9d4898"/>
</svg>
</body></html>
